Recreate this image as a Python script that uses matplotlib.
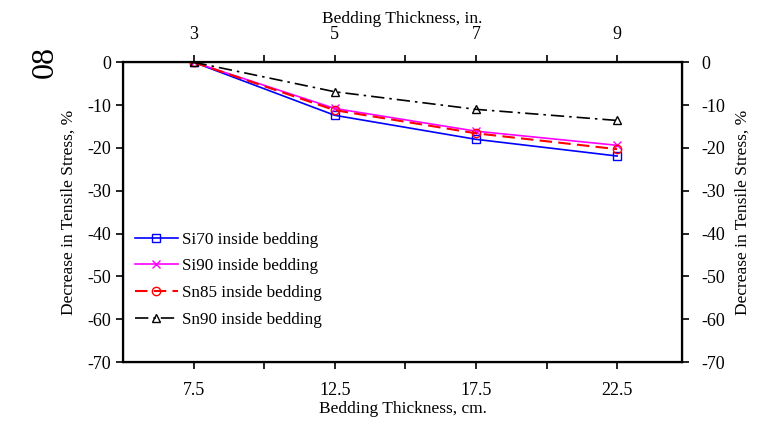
import matplotlib.pyplot as plt
import numpy as np

plt.rcParams['font.family'] = ['Liberation Serif', 'DejaVu Serif']
plt.rcParams['font.size'] = 12.5
plt.rcParams['axes.unicode_minus'] = False

# bedding thickness (cm) and decrease in tensile stress (%)
thick_cm = [7.5, 12.5, 17.5, 22.5]
si70 = [0, -12.4, -18.0, -21.9]
si90 = [0, -10.8, -16.1, -19.4]
sn85 = [0, -11.2, -16.6, -20.3]
sn90 = [0, -6.9, -11.0, -13.6]

top_ticks_cm = [7.5, 10, 12.5, 15, 17.5, 20, 22.5]
top_labels = ['3', '', '5', '', '7', '', '9']
bottom_labels = ['7.5', '', '12.5', '', '17.5', '', '22.5']

fig = plt.figure(figsize=(7.57, 4.26), dpi=100)
ax = fig.add_axes([0.1625, 0.150, 0.7385, 0.704])

ax.plot(thick_cm, si70, color='blue', lw=1.2, marker='s', ms=6, mfc='none', label='Si70 inside bedding')
ax.plot(thick_cm, si90, color='magenta', lw=1.2, marker='x', ms=6, label='Si90 inside bedding')
ax.plot(thick_cm, sn85, color='red', lw=1.5, ls=(0, (6, 3)), marker='o', ms=6, mfc='none', label='Sn85 inside bedding')
ax.plot(thick_cm, sn90, color='black', lw=1.2, ls=(0, (8, 3, 1.5, 3)), marker='^', ms=6, mfc='none', label='Sn90 inside bedding')

ax.set_xlim(5, 24.8)
ax.set_ylim(-70, 0)
ax.set_xticks(top_ticks_cm)
ax.set_xticklabels(bottom_labels)
ax.set_yticks(np.arange(-70, 1, 10))
ax.set_xlabel('Bedding Thickness, cm.', labelpad=2)
ax.set_ylabel('Decrease in Tensile Stress, %', labelpad=8)
ax.tick_params(direction='out', length=5, width=1.2, labelsize=13)
ax.tick_params(axis='x', pad=9)
for s in ax.spines.values():
    s.set_linewidth(1.6)

ax2 = ax.twinx()
ax2.set_ylim(-70, 0)
ax2.set_yticks(np.arange(-70, 1, 10))
ax2.set_ylabel('Decrease in Tensile Stress, %', rotation=90, labelpad=7)
ax2.tick_params(direction='out', length=5, width=1.2, labelsize=13, pad=9)

ax3 = ax.twiny()
ax3.set_xlim(ax.get_xlim())
ax3.set_xticks(top_ticks_cm)
ax3.set_xticklabels(top_labels)
ax3.set_xlabel('Bedding Thickness, in.', labelpad=2)
ax3.tick_params(direction='out', length=5, width=1.2, labelsize=13, pad=9)

ax.legend(loc='lower left', bbox_to_anchor=(0.0, 0.075), frameon=False, handlelength=2.5,
          handletextpad=0.25, labelspacing=0.62, borderaxespad=0.3, fontsize=12.3)

fig.text(0.060, 0.855, '08', rotation=90, fontsize=23, ha='center', va='center')

fig.savefig('out.png', dpi=100)
